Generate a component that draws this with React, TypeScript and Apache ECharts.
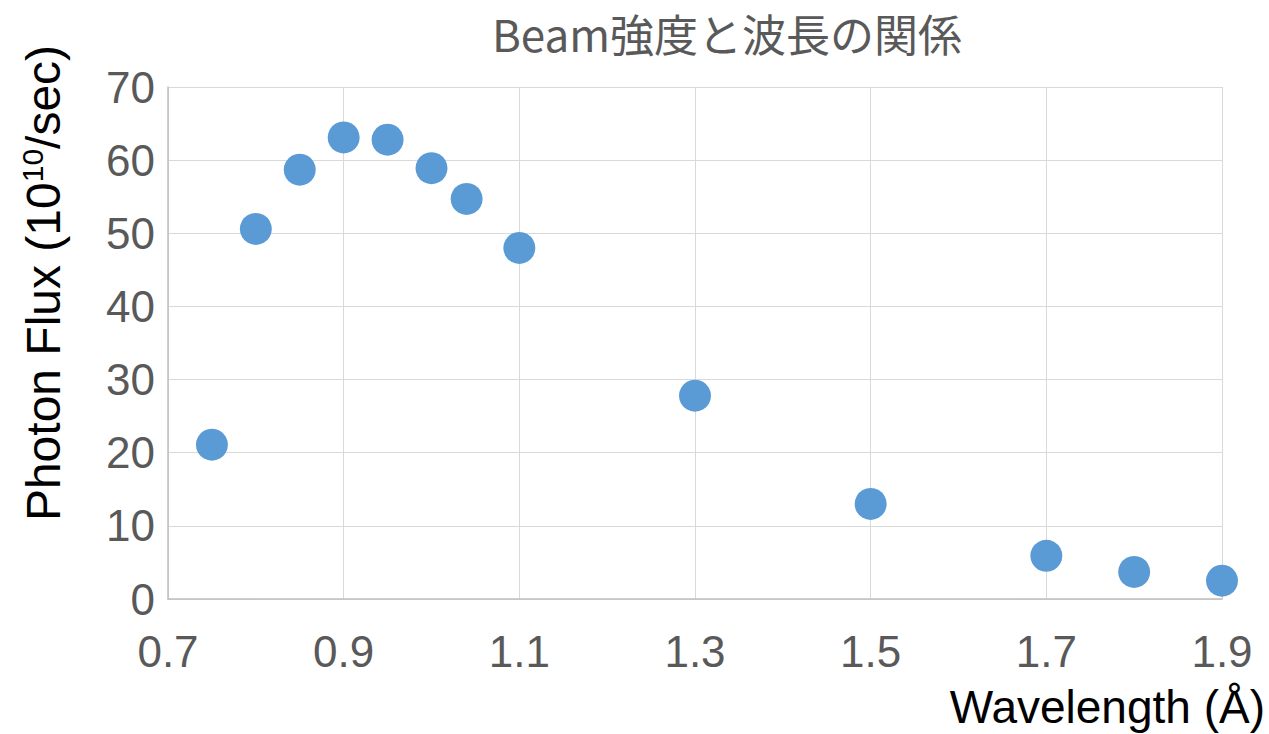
import React, { useEffect, useRef } from "react";
import * as echarts from "echarts";

const wavelengths = [0.75, 0.8, 0.85, 0.9, 0.95, 1.0, 1.04, 1.1, 1.3, 1.5, 1.7, 1.8, 1.9];
const photonFlux = [21.1, 50.6, 58.7, 63.1, 62.8, 58.9, 54.7, 48.0, 27.8, 13.0, 5.9, 3.7, 2.5];
const titleText = "Beam強度と波長の関係";
const xAxisTitle = "Wavelength (Å)";
const yAxisTitleParts = ["Photon Flux (10", "10", "/sec)"];

export default function App() {
  const ref = useRef<HTMLDivElement>(null);
  useEffect(() => {
    if (!ref.current) return;
    const chart = echarts.init(ref.current, null, { renderer: "svg" });
    const font = "'Liberation Sans', Arial, sans-serif";
    chart.setOption({
      animation: false,
      backgroundColor: "#ffffff",
      grid: { left: 168, right: 47, top: 87, bottom: 135 },
      xAxis: {
        type: "value",
        min: 0.7,
        max: 1.9,
        interval: 0.2,
        axisLine: { show: true, lineStyle: { color: "#bfbfbf", width: 1.5 } },
        axisTick: { show: false },
        splitLine: { show: true, lineStyle: { color: "#d9d9d9", width: 1 } },
        axisLabel: {
          color: "#595959",
          fontSize: 44,
          fontFamily: font,
          margin: 30,
          formatter: (v: number) => v.toFixed(1),
        },
      },
      yAxis: {
        type: "value",
        min: 0,
        max: 70,
        interval: 10,
        axisLine: { show: true, lineStyle: { color: "#bfbfbf", width: 1.5 } },
        axisTick: { show: false },
        splitLine: { show: true, lineStyle: { color: "#d9d9d9", width: 1 } },
        axisLabel: {
          color: "#595959",
          fontSize: 44,
          fontFamily: font,
          margin: 13,
        },
      },
      graphic: [
        {
          type: "text",
          x: 727,
          y: 33,
          style: {
            text: titleText,
            fill: "#595959",
            fontSize: 44,
            fontFamily: "'Noto Sans CJK JP', sans-serif",
            textAlign: "center",
            textVerticalAlign: "middle",
          },
        },
        {
          type: "text",
          x: 1265,
          y: 707,
          style: {
            text: xAxisTitle,
            fill: "#000000",
            fontSize: 46,
            fontFamily: font,
            textAlign: "right",
            textVerticalAlign: "middle",
          },
        },
        {
          type: "text",
          x: 42,
          y: 283,
          rotation: Math.PI / 2,
          style: {
            text:
              "{n|" + yAxisTitleParts[0] + "}{s|" + yAxisTitleParts[1] + "}{n|" + yAxisTitleParts[2] + "}",
            fill: "#000000",
            fontFamily: font,
            textAlign: "center",
            textVerticalAlign: "middle",
            rich: {
              n: { fontSize: 48, fontFamily: font, fill: "#000000", lineHeight: 50, verticalAlign: "bottom" },
              s: { fontSize: 30, fontFamily: font, fill: "#000000", lineHeight: 50, verticalAlign: "top", padding: [0, 0, 18, 0] },
            },
          },
        },
      ],
      series: [
        {
          type: "scatter",
          data: wavelengths.map((x, i) => [x, photonFlux[i]]),
          symbol: "circle",
          symbolSize: 32,
          itemStyle: { color: "#5b9bd5", opacity: 1 },
        },
      ],
    });
    return () => chart.dispose();
  }, []);
  return (
    <div
      ref={ref}
      style={{ position: "absolute", left: 0, top: 0, width: 1269, height: 734 }}
    />
  );
}
